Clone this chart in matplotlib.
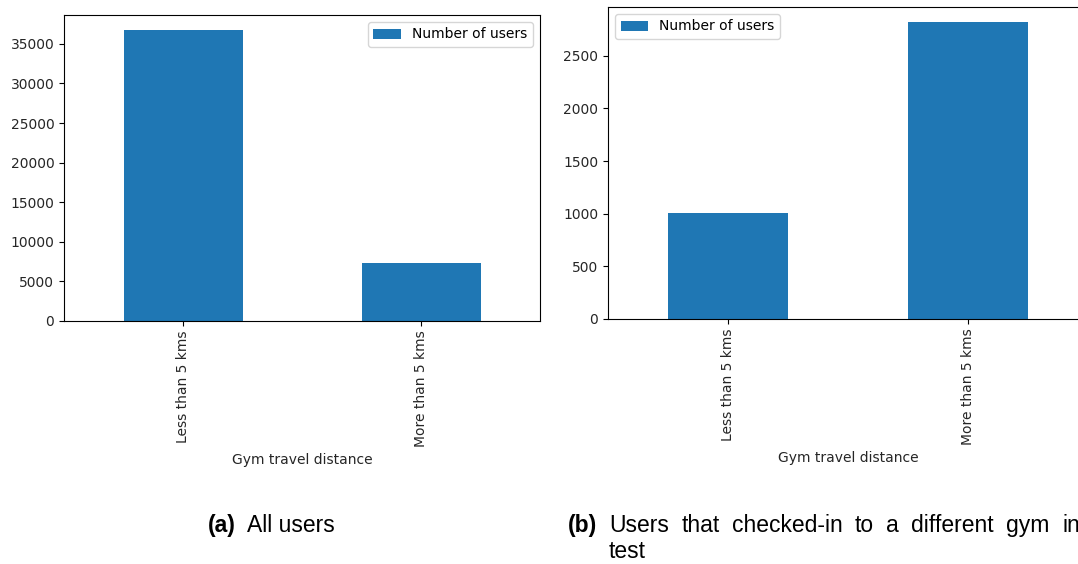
import matplotlib
matplotlib.use("Agg")
import matplotlib.pyplot as plt

categories = ["Less than 5 kms", "More than 5 kms"]
all_users = [36800, 7280]
diff_gym_users = [1008, 2823]
series_name = "Number of users"
xlabel = "Gym travel distance"
caption_a = ("(a)", "All users")
caption_b = ("(b)", "Users that checked-in to a different gym in", "test")

W, H = 1078, 564
fig = plt.figure(figsize=(W / 100, H / 100), dpi=100)
plt.rcParams["font.family"] = ["DejaVu Sans"]

def px_axes(x0, x1, ytop, ybot):
    return fig.add_axes([x0 / W, 1 - ybot / H, (x1 - x0) / W, (ybot - ytop) / H])

color = "#1f77b4"

def draw(ax, values, loc):
    x = list(range(len(categories)))
    ax.bar(x, values, width=0.5, color=color, label=series_name)
    ax.set_xlim(-0.5, len(categories) - 0.5)
    ax.set_ylim(0, max(values) * 1.05)
    ax.set_xticks(x)
    ax.set_xticklabels(categories, rotation=90, fontsize=10, color="#262626")
    ax.tick_params(axis="y", labelsize=10, labelcolor="#262626")
    ax.set_xlabel(xlabel, fontsize=10, color="#262626")
    ax.legend(loc=loc, fontsize=10)

ax1 = px_axes(64, 540, 15, 321)
draw(ax1, all_users, "upper right")
ax2 = px_axes(608, 1088, 7, 319)
draw(ax2, diff_gym_users, "upper left")

cap_font = "Liberation Sans"
fs = 16.5

def ftext(xpx, ypx, s, bold=False):
    return fig.text(xpx / W, 1 - ypx / H, s, fontsize=fs, family=cap_font,
                    fontweight="bold" if bold else "normal",
                    va="baseline", ha="left")

ftext(208, 532, caption_a[0], bold=True)
ftext(247, 532, caption_a[1])
ftext(568, 532, caption_b[0], bold=True)

# justified first line of caption (b)
renderer = fig.canvas.get_renderer()
words = caption_b[1].split()
start, last_start = 609, 1062
widths = []
texts = []
for w in words:
    t = ftext(0, 532, w)
    texts.append(t)
    widths.append(t.get_window_extent(renderer).width)
gap = (last_start - start - sum(widths[:-1])) / (len(words) - 1)
x = start
for t, wd in zip(texts, widths):
    t.set_x(x / W)
    x += wd + gap
ftext(609, 558, caption_b[2])

fig.savefig("out.png", dpi=100)
